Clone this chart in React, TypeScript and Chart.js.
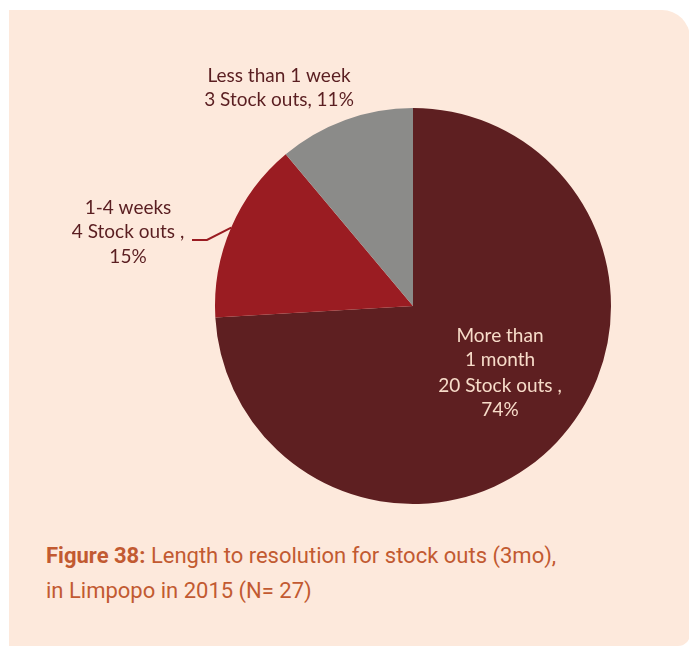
import React, { useEffect, useRef } from "react";
import { Chart, registerables } from "chart.js";

Chart.register(...registerables);

const categories = ["More than 1 month", "1-4 weeks", "Less than 1 week"];
const stockOuts = [20, 4, 3];
const percentLabels = ["74%", "15%", "11%"];
const labelLines = [
  ["More than", "1 month", "20 Stock outs ,", "74%"],
  ["1-4 weeks", "4 Stock outs ,", "15%"],
  ["Less than 1 week", "3 Stock outs, 11%"],
];
const sliceColors = ["#5e1f21", "#9a1c22", "#8b8b89"];

const FONT = "Lato, 'Open Sans', sans-serif";

const labelPlugin = {
  id: "pieLabels",
  afterDatasetsDraw(chart: any) {
    const ctx = chart.ctx;
    const meta = chart.getDatasetMeta(0);
    ctx.save();
    ctx.font = `19px ${FONT}`;
    ctx.textAlign = "center";
    ctx.textBaseline = "middle";
    meta.data.forEach((arc: any, i: number) => {
      const { x, y, startAngle, endAngle, outerRadius } = arc.getProps(
        ["x", "y", "startAngle", "endAngle", "outerRadius"],
        true
      );
      const mid = (startAngle + endAngle) / 2;
      const lines = labelLines[i];
      if (i === 0) {
        ctx.fillStyle = "#f7dcc9";
        const cx = x + 87;
        const ys = [y + 30, y + 54, y + 80, y + 104];
        lines.forEach((t, k) => ctx.fillText(t, cx, ys[k]));
      } else if (i === 1) {
        ctx.fillStyle = "#5a1e21";
        const cx = x - 285;
        const ys = [y - 98, y - 74, y - 49];
        lines.forEach((t, k) => ctx.fillText(t, cx, ys[k]));
        const ex = x + Math.cos(mid) * outerRadius;
        const ey = y + Math.sin(mid) * outerRadius;
        ctx.strokeStyle = "#9a1c22";
        ctx.lineWidth = 2;
        ctx.beginPath();
        ctx.moveTo(x - 221, y - 66);
        ctx.lineTo(x - 206, y - 66);
        ctx.lineTo(ex, ey);
        ctx.stroke();
      } else {
        ctx.fillStyle = "#5a1e21";
        const cx = x - 134;
        const ys = [y - 230, y - 206];
        lines.forEach((t, k) => ctx.fillText(t, cx, ys[k]));
      }
    });
    ctx.restore();
  },
};

export default function App() {
  const ref = useRef<HTMLCanvasElement>(null);
  useEffect(() => {
    if (!ref.current) return;
    const chart = new Chart(ref.current, {
      type: "pie",
      data: {
        labels: categories,
        datasets: [
          {
            data: stockOuts,
            backgroundColor: sliceColors,
            borderWidth: 0,
          },
        ],
      },
      options: {
        animation: false,
        responsive: false,
        events: [],
        layout: { padding: { left: 206, right: 79, top: 98, bottom: 26 } },
        plugins: {
          legend: { display: false },
          tooltip: { enabled: false },
        },
      },
      plugins: [labelPlugin],
    });
    return () => chart.destroy();
  }, []);

  return (
    <div
      style={{
        position: "relative",
        marginLeft: 1,
        marginTop: 2,
        width: 681,
        height: 636,
        background: "#fde9dc",
        borderRadius: "0 28px 12px 0",
      }}
    >
      <canvas ref={ref} width={681} height={520} style={{ display: "block" }} />
      <div
        style={{
          position: "absolute",
          left: 37,
          top: 528,
          fontFamily: "Roboto, sans-serif",
          fontSize: 22,
          lineHeight: "35px",
          color: "#c25a31",
          whiteSpace: "nowrap",
        }}
      >
        <span style={{ fontWeight: 700 }}>Figure 38:</span> Length to resolution for stock outs (3mo),
        <br />
        in Limpopo in 2015 (N= 27)
      </div>
    </div>
  );
}
